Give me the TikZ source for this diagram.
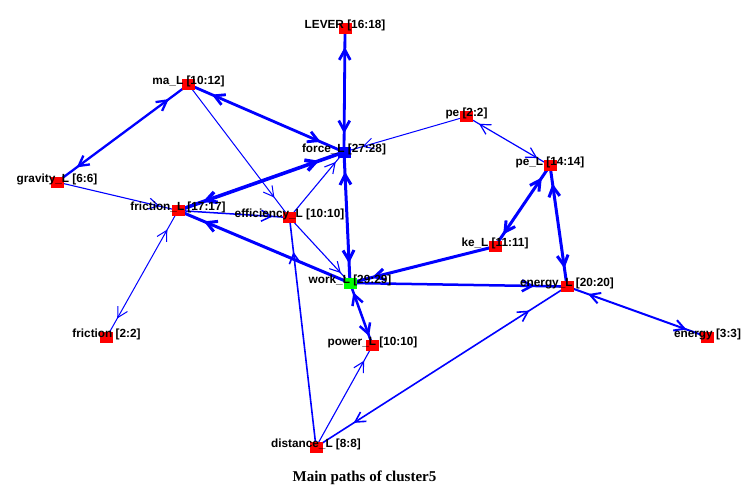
\documentclass[tikz,border=0pt]{standalone}
\usepackage{fontspec}
\setmainfont{Liberation Serif}
\setsansfont{Liberation Sans}
\usetikzlibrary{arrows.meta,decorations.markings}
\tikzset{
  sq/.style={draw=none,fill=red,minimum width=13pt,minimum height=11pt,inner sep=0pt,outer sep=0pt},
  lab/.style={font=\sffamily\bfseries\fontsize{11.8}{13}\selectfont,anchor=base,inner sep=0pt,text=black},
  edge/.style={draw=blue,line join=round},
  fwd/.style={postaction={decorate,decoration={markings,
     mark=at position 0.85 with {\arrow{Straight Barb[length=10pt,width=11pt]}}}}},
  bi/.style={postaction={decorate,decoration={markings,
     mark=at position 0.85 with {\arrow{Straight Barb[length=10pt,width=11pt]}},
     mark=at position 0.15 with {\arrowreversed{Straight Barb[length=10pt,width=11pt]}}}}},
}
\begin{document}
\begin{tikzpicture}[x=1pt,y=-1pt]
\useasboundingbox (0,0) rectangle (754,493);
\fill[white] (0,0) rectangle (754,493);
% node positions
\coordinate (lever) at (345,28.5);
\coordinate (ma) at (188.5,84.5);
\coordinate (force) at (344,152);
\coordinate (pe) at (466.5,116.5);
\coordinate (peL) at (550,165.5);
\coordinate (gravity) at (57,182);
\coordinate (frictionL) at (178,210.5);
\coordinate (eff) at (289.5,217.5);
\coordinate (keL) at (495,246.5);
\coordinate (work) at (350,283);
\coordinate (energyL) at (567,286.5);
\coordinate (friction) at (106.5,337.5);
\coordinate (energy) at (707.5,337);
\coordinate (power) at (372.5,345.5);
\coordinate (distance) at (316,447);
% edges
\draw[edge,bi,line width=2.8pt] (lever) -- (force);
\draw[edge,bi,line width=2.8pt] (ma) -- (force);
\draw[edge,bi,line width=2.3pt] (ma) -- (gravity);
\draw[edge,fwd,line width=1pt] (ma) -- (eff);
\draw[edge,fwd,line width=1.1pt] (gravity) -- (frictionL);
\draw[edge,bi,line width=3.6pt] (frictionL) -- (force);
\draw[edge,fwd,line width=1.5pt] (frictionL) -- (eff);
\draw[edge,fwd,line width=3pt] (work) -- (frictionL);
\draw[edge,fwd,line width=1.1pt] (eff) -- (force);
\draw[edge,fwd,line width=1.1pt] (eff) -- (work);
\draw[edge,bi,line width=3pt] (force) -- (work);
\draw[edge,fwd,line width=1pt] (pe) -- (force);
\draw[edge,bi,line width=1.2pt] (pe) -- (peL);
\draw[edge,bi,line width=3pt] (peL) -- (keL);
\draw[edge,bi,line width=3pt] (peL) -- (energyL);
\draw[edge,fwd,line width=3pt] (keL) -- (work);
\draw[edge,fwd,line width=2.5pt] (work) -- (energyL);
\draw[edge,bi,line width=2pt] (energy) -- (energyL);
\draw[edge,bi,line width=2.5pt] (work) -- (power);
\draw[edge,fwd,line width=1.1pt] (distance) -- (power);
\draw[edge,bi,line width=1.6pt] (distance) -- (energyL);
\draw[edge,fwd,line width=1.6pt] (distance) -- (eff);
\draw[edge,bi,line width=1pt] (frictionL) -- (friction);
% squares
\node[sq] (sq-lever) at (lever) {};
\node[sq] (sq-ma) at (ma) {};
\node[sq,fill=blue] (sq-force) at (force) {};
\node[sq] (sq-pe) at (pe) {};
\node[sq] (sq-peL) at (peL) {};
\node[sq] (sq-gravity) at (gravity) {};
\node[sq] (sq-frictionL) at (frictionL) {};
\node[sq] (sq-eff) at (eff) {};
\node[sq] (sq-keL) at (keL) {};
\node[sq,fill=green] (sq-work) at (work) {};
\node[sq] (sq-energyL) at (energyL) {};
\node[sq] (sq-friction) at (friction) {};
\node[sq] (sq-energy) at (energy) {};
\node[sq] (sq-power) at (power) {};
\node[sq] (sq-distance) at (distance) {};
% labels
\node[lab] (l-lever) at (lever) {LEVER [16:18]};
\node[lab] (l-ma) at (ma) {ma\_L [10:12]};
\node[lab] (l-force) at (force) {force\_L [27:28]};
\node[lab] (l-pe) at (pe) {pe [2:2]};
\node[lab] (l-peL) at (peL) {pe\_L [14:14]};
\node[lab] (l-gravity) at (gravity) {gravity\_L [6:6]};
\node[lab] (l-frictionL) at (frictionL) {friction\_L [17:17]};
\node[lab] (l-eff) at (eff) {efficiency\_L [10:10]};
\node[lab] (l-keL) at (keL) {ke\_L [11:11]};
\node[lab] (l-work) at (work) {work\_L [29:29]};
\node[lab] (l-energyL) at (energyL) {energy\_L [20:20]};
\node[lab] (l-friction) at (friction) {friction [2:2]};
\node[lab] (l-energy) at (energy) {energy [3:3]};
\node[lab] (l-power) at (power) {power\_L [10:10]};
\node[lab] (l-distance) at (distance) {distance\_L [8:8]};
% title
\node[font=\bfseries\fontsize{15}{17}\selectfont,anchor=base,inner sep=0pt] (title) at (364.5,481) {Main paths of cluster5};
\end{tikzpicture}
\end{document}
